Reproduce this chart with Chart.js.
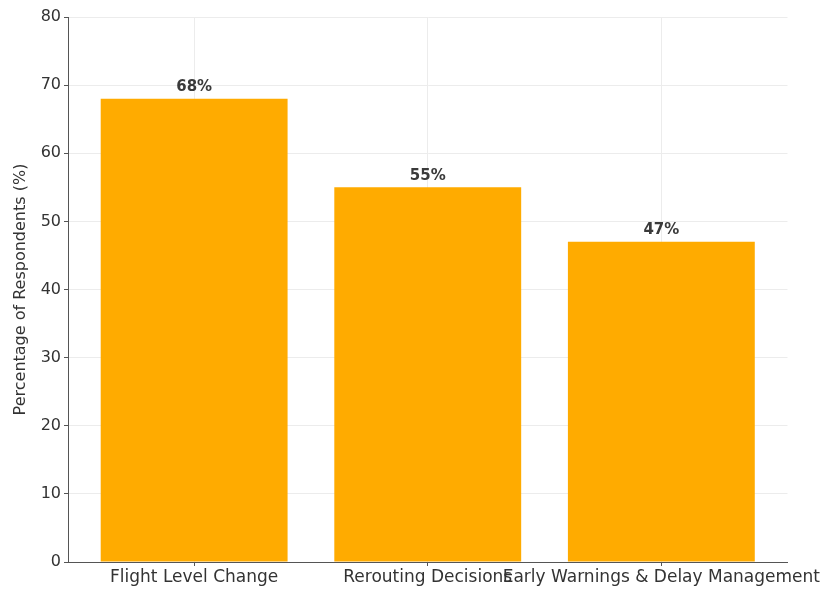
<!DOCTYPE html>
<html>
<head>
<meta charset="utf-8">
<script src="https://cdn.jsdelivr.net/npm/chart.js@4"></script>
<style>
  html, body { margin: 0; padding: 0; background: #fff; }
  #wrap { width: 828px; height: 589px; }
</style>
</head>
<body>
<div id="wrap"><canvas id="bar-chart"></canvas></div>
<script>
const categories = ["Flight Level Change", "Rerouting Decisions", "Early Warnings & Delay Management"];
const percentages = [68, 55, 47];
const yTicks = [0, 10, 20, 30, 40, 50, 60, 70, 80];

const font = "'DejaVu Sans', sans-serif";

// bar labels like "68%" above each bar
const valueLabels = {
  id: "valueLabels",
  afterDatasetsDraw(chart) {
    const ctx = chart.ctx;
    const meta = chart.getDatasetMeta(0);
    ctx.save();
    ctx.font = "bold 15px " + font;
    ctx.fillStyle = "#3a3a3a";
    ctx.textAlign = "center";
    ctx.textBaseline = "bottom";
    meta.data.forEach((bar, i) => {
      ctx.fillText(percentages[i] + "%", bar.x, bar.y - 4);
    });
    ctx.restore();
  }
};

const data = {
  datasets: [
    {
      label: "Percentage of Respondents",
      data: percentages.map((v, i) => ({ x: i, y: v })),
      backgroundColor: "#ffab00",
      borderWidth: 0,
      categoryPercentage: 1,
      barPercentage: 0.8,
    },
  ],
};

const config = {
  type: "bar",
  data: data,
  options: {
    responsive: true,
    maintainAspectRatio: false,
    animation: false,
    layout: { padding: { top: 17, right: 40, left: 0, bottom: 0 } },
    plugins: {
      legend: { display: false },
      tooltip: { enabled: false },
    },
    scales: {
      x: {
        type: "linear",
        offset: false,
        min: -0.54,
        max: 2.54,
        afterBuildTicks: (scale) => {
          scale.ticks = categories.map((c, i) => ({ value: i }));
        },
        afterFit: (scale) => { scale.height = 27; },
        ticks: {
          autoSkip: false,
          maxRotation: 0,
          padding: 1,
          color: "#333",
          font: { family: font, size: 17 },
          callback: (v) => categories[v],
        },
        grid: {
          offset: false,
          color: "#ececec",
          tickColor: "#555",
          tickLength: 4,
        },
        border: { display: true, color: "#555", width: 1 },
      },
      y: {
        min: 0,
        max: 80,
        afterBuildTicks: (scale) => {
          scale.ticks = yTicks.map((v) => ({ value: v }));
        },
        afterFit: (scale) => { scale.width = 68; },
        ticks: {
          padding: 3,
          color: "#333",
          font: { family: font, size: 16 },
        },
        grid: {
          color: "#ececec",
          tickColor: "#555",
          tickLength: 4,
        },
        border: { display: true, color: "#555", width: 1 },
        title: {
          display: true,
          text: "Percentage of Respondents (%)",
          color: "#333",
          font: { family: font, size: 16 },
          padding: { top: 11, bottom: 0 },
        },
      },
    },
  },
  plugins: [valueLabels],
};

let ctx = document.getElementById("bar-chart");
const barChart = new Chart(ctx, config);
</script>
</body>
</html>
